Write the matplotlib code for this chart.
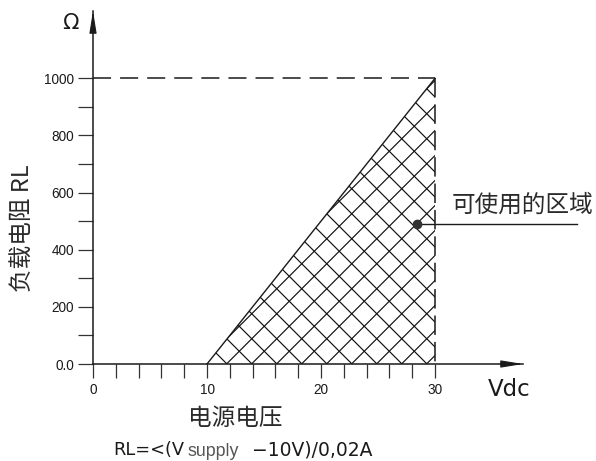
import numpy as np
import matplotlib
matplotlib.use("Agg")
import matplotlib.pyplot as plt
from matplotlib.patches import Polygon
from matplotlib.collections import LineCollection
from matplotlib.transforms import IdentityTransform

plt.rcParams['lines.scale_dashes'] = False

# ---------------- data ----------------
x_major_ticks = [0, 10, 20, 30]
x_major_labels = ['0', '10', '20', '30']
x_minor_ticks = [2, 4, 6, 8, 12, 14, 16, 18, 22, 24, 26, 28]
y_major_ticks = [0, 200, 400, 600, 800, 1000]
y_major_labels = ['0.0', '200', '400', '600', '800', '1000']
y_minor_ticks = [100, 300, 500, 700, 900]

v_min = 10          # Vdc at which RL = 0
v_max = 30          # max supply voltage
r_max = 1000        # max load resistance
region_v = [v_min, v_max, v_max]
region_r = [0, r_max, 0]
marker_v = 28.45
marker_r = 490

# ---------------- layout ----------------
W, H = 596, 461
fig = plt.figure(figsize=(W / 100, H / 100), dpi=100)
ax = fig.add_axes([0, 0, 1, 1])
ax.patch.set_visible(False)
x0_px, xscale = 93, 11.4        # px of x=0, px per Vdc
y0_px, yscale = 364, 0.2857     # px (from top) of y=0, px per ohm
ax.set_xlim(-x0_px / xscale, (W - x0_px) / xscale)
ax.set_ylim(-(H - y0_px) / yscale, y0_px / yscale)
x_tip = (523 - x0_px) / xscale
y_tip = (y0_px - 11) / yscale
label_end_v = (577 - x0_px) / xscale

def fpx(x, y):
    return x / W, 1 - y / H

ink = '#1a1a1a'
cjk = ['Noto Sans CJK SC', 'DejaVu Sans']

# spines as axes
for s in ['top', 'right']:
    ax.spines[s].set_visible(False)
ax.spines['left'].set_position(('data', 0))
ax.spines['bottom'].set_position(('data', 0))
ax.spines['left'].set_bounds(0, y_tip)
ax.spines['bottom'].set_bounds(0, x_tip)
for s in ['left', 'bottom']:
    ax.spines[s].set_linewidth(1.1)
    ax.spines[s].set_color(ink)

# arrow heads
arrow_kw = dict(arrowstyle='-|>,head_length=1.35,head_width=0.22', mutation_scale=10,
                fc=ink, ec=ink, lw=0.8, shrinkA=0, shrinkB=0)
ax.annotate('', xy=(x_tip, 0), xytext=(x_tip - 2, 0), arrowprops=arrow_kw)
ax.annotate('', xy=(0, y_tip), xytext=(0, y_tip - 60), arrowprops=arrow_kw)

# ticks
ax.set_xticks(x_major_ticks)
ax.set_xticklabels(x_major_labels)
ax.set_xticks(x_minor_ticks, minor=True)
ax.set_yticks(y_major_ticks)
ax.set_yticklabels(y_major_labels)
ax.set_yticks(y_minor_ticks, minor=True)
ax.tick_params(axis='x', which='both', direction='out', length=10, width=0.9,
               color='#333333', pad=4, labelsize=9.8, labelcolor=ink)
ax.tick_params(axis='y', which='both', direction='out', length=10.8, width=0.9,
               color='#333333', pad=3, labelsize=9.8, labelcolor=ink)
for lab in ax.get_xticklabels() + ax.get_yticklabels():
    lab.set_family('Liberation Sans')

# usable region: hatch
tri = Polygon(np.column_stack([region_v, region_r]), closed=True,
              facecolor='none', edgecolor='none')
ax.add_patch(tri)
sp = 25.0
segs = []
for c in np.arange(16.5 - W - sp, H + sp, sp):       # y = x + c (display px)
    segs.append([(0, c), (W, W + c)])
for d in np.arange(-1.0, W + H + sp, sp):              # y = -x + d
    segs.append([(0, d), (W, d - W)])
lc = LineCollection(segs, transform=IdentityTransform(), colors='#111111', linewidths=0.85)
ax.add_collection(lc)
lc.set_clip_path(tri)

# boundaries
ax.plot(region_v[:2], region_r[:2], color=ink, lw=1.0)
ax.plot([0, v_max], [r_max, r_max], color=ink, lw=1.1, linestyle=(0, (13, 6.5)))
ax.plot([v_max, v_max], [r_max, 0], color=ink, lw=1.1, linestyle=(0, (14, 5)))

# annotation marker
ax.plot([marker_v, label_end_v], [marker_r, marker_r], color=ink, lw=1.0)
ax.plot([marker_v], [marker_r], 'o', color='#333333', markersize=6)
fig.text(*fpx(523, 205), '可使用的区域', family=cjk,
         fontsize=17, color='#2a2a2a', ha='center', va='center')

# axis labels
fig.text(*fpx(70, 23), 'Ω', family='DejaVu Sans', fontsize=15.5, color=ink,
         ha='center', va='center')
fig.text(*fpx(509, 389), 'Vdc', family='DejaVu Sans', fontsize=16.5, color=ink,
         ha='center', va='center')
fig.text(*fpx(22, 228), '负载电阻 RL', family=cjk,
         fontsize=17, color='#2a2a2a', ha='center', va='center', rotation=90)
fig.text(*fpx(235, 418), '电源电压', family=cjk,
         fontsize=17, color='#2a2a2a', ha='center', va='center')

# formula
fig.text(*fpx(113, 450), 'RL=<(V', family='DejaVu Sans', fontsize=12.8,
         color=ink, ha='left', va='center')
fig.text(*fpx(188, 451), 'supply', family='Liberation Sans', fontsize=12.8,
         color='#555555', ha='left', va='center')
fig.text(*fpx(252, 450), '−10V)/0,02A', family='DejaVu Sans', fontsize=13.5,
         color=ink, ha='left', va='center')

fig.savefig('out.png', dpi=100)
